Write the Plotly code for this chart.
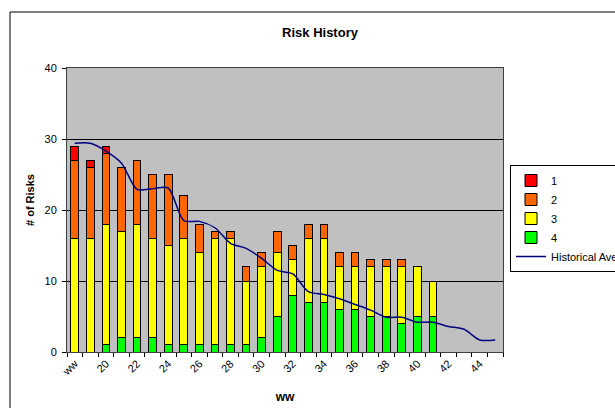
import plotly.graph_objects as go

# Work-week categories along the x axis
weeks = ["ww"] + [str(w) for w in range(19, 46)]

# Open risks per severity level for each work week
sev1 = [2, 1, 1, 0, 0, 0, 0, 0, 0, 0, 0, 0, 0, 0, 0, 0, 0, 0, 0, 0, 0, 0, 0, 0]
sev2 = [11, 10, 10, 9, 9, 9, 10, 6, 4, 1, 1, 2, 2, 3, 2, 2, 2, 2, 2, 1, 1, 1, 0, 0]
sev3 = [16, 16, 17, 15, 16, 14, 14, 15, 13, 15, 15, 9, 10, 9, 5, 9, 9, 6, 6, 7, 7, 8, 7, 5]
sev4 = [0, 0, 1, 2, 2, 2, 1, 1, 1, 1, 1, 1, 2, 5, 8, 7, 7, 6, 6, 5, 5, 4, 5, 5]

# Smoothed historical average of total open risks
hist_avg = [29.4, 29.4, 28.3, 26.6, 22.9, 23.0, 23.1, 18.5, 18.4, 17.5, 15.3, 14.6,
            13.2, 11.5, 11.0, 8.5, 8.1, 7.5, 6.7, 5.9, 4.9, 4.9, 4.2, 4.2, 3.6, 3.2,
            1.7, 1.7]

y_ticks = [0, 10, 20, 30, 40]

FONT = "Liberation Sans, Arial, sans-serif"

# Plot-area placement in pixels (used to convert layout positions to paper units)
PL, PR, PT, PB = 67, 503, 68, 352
PW, PH = PR - PL, PB - PT

fig = go.Figure()

bar_x = weeks[:len(sev4)]
for name, vals, color, rank in [("4", sev4, "#00FF00", 4),
                                ("3", sev3, "#FFFF00", 3),
                                ("2", sev2, "#FF6600", 2),
                                ("1", sev1, "#FF0000", 1)]:
    fig.add_trace(go.Bar(
        x=bar_x, y=vals, name=name, legendrank=rank,
        marker=dict(color=color, line=dict(color="#000000", width=1)),
    ))

fig.add_trace(go.Scatter(
    x=weeks, y=hist_avg, name="Historical Average", mode="lines", legendrank=5,
    line=dict(color="#000080", width=1.5, shape="spline", smoothing=0.8),
))

# Chart-area frame (runs off the right and bottom edges)
fig.add_shape(type="rect", xref="paper", yref="paper",
              x0=(10 - PL) / PW, x1=1.30, y0=-0.25, y1=(PB - 12) / PH,
              line=dict(color="#000000", width=1), fillcolor="rgba(0,0,0,0)")

# Value-axis title, set a little above the plot's mid-height
fig.add_annotation(text="<b># of Risks</b>", xref="paper", yref="paper",
                   x=(30 - PL) / PW, y=(PB - 200) / PH,
                   xanchor="center", yanchor="middle",
                   textangle=-90, showarrow=False,
                   font=dict(family=FONT, size=11, color="#000000"))

fig.update_layout(
    width=615, height=408,
    margin=dict(l=PL, r=615 - PR, t=PT, b=408 - PB, autoexpand=False),
    paper_bgcolor="#FFFFFF",
    plot_bgcolor="#C0C0C0",
    barmode="stack",
    bargap=0.5,
    font=dict(family=FONT, size=11, color="#000000"),
    title=dict(text="<b>Risk History</b>", x=320 / 615, xref="container", xanchor="center",
               y=1 - 32 / 408, yref="container", yanchor="middle",
               font=dict(family=FONT, size=13, color="#000000")),
    showlegend=True,
    legend=dict(x=(510 - PL) / PW, y=(PB - 165) / PH, xanchor="left", yanchor="top",
                bgcolor="#FFFFFF", bordercolor="#000000", borderwidth=1,
                traceorder="normal", font=dict(family=FONT, size=11),
                tracegroupgap=0, itemwidth=30),
    xaxis=dict(
        type="category", categoryorder="array", categoryarray=weeks,
        range=[-0.5, len(weeks) - 0.5],
        tickmode="array", tickvals=weeks,
        ticktext=[w if i % 2 == 0 else "" for i, w in enumerate(weeks)],
        tickangle=-45, tickson="boundaries", ticks="outside", ticklen=4,
        tickcolor="#000000", tickfont=dict(family=FONT, size=11),
        showline=True, linecolor="#404040", linewidth=1, mirror=True,
        showgrid=False,
        title=dict(text="<b>ww</b>", font=dict(family=FONT, size=12), standoff=15),
    ),
    yaxis=dict(
        range=[0, 40], tickmode="array", tickvals=y_ticks,
        ticks="outside", ticklen=4, tickcolor="#000000",
        tickfont=dict(family=FONT, size=11), ticklabelstandoff=3,
        showgrid=True, gridcolor="#000000", gridwidth=1,
        showline=True, linecolor="#404040", linewidth=1, mirror=True,
        zeroline=False,
    ),
)

fig.write_html("out.html")
